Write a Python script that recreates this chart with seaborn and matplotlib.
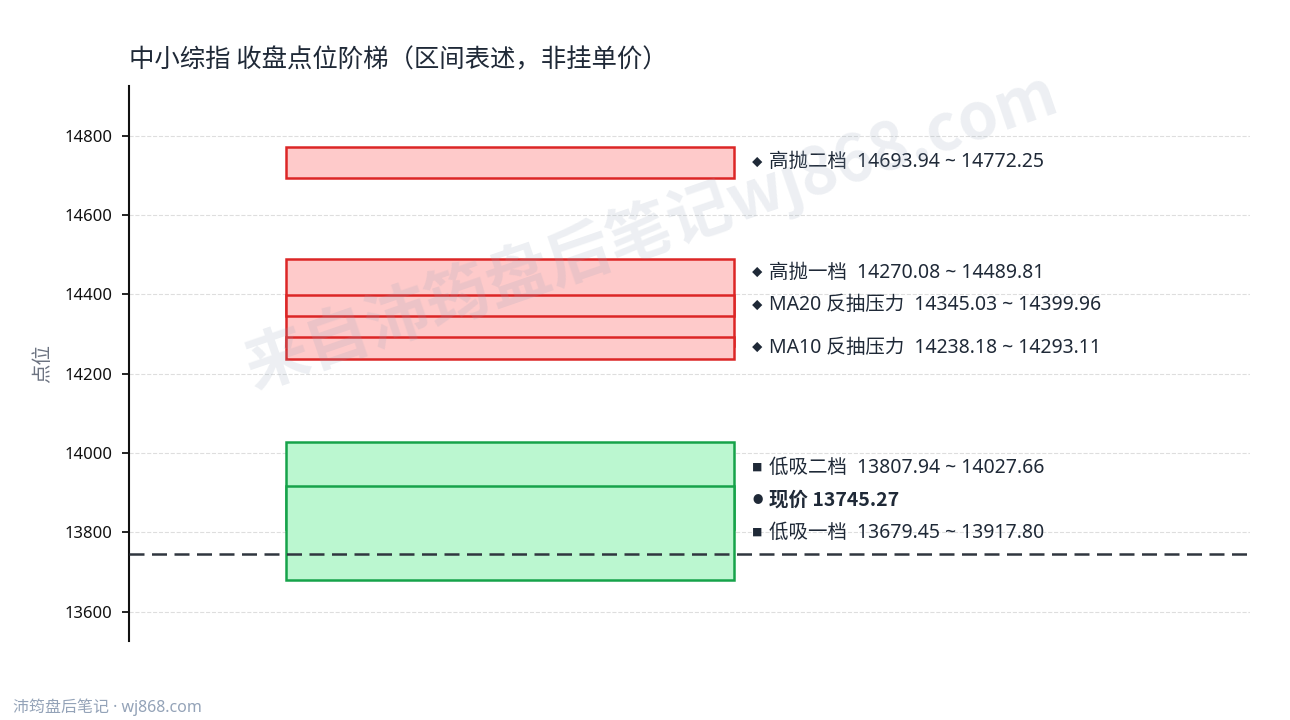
import matplotlib
matplotlib.use("Agg")
import matplotlib.pyplot as plt
import seaborn as sns

# price zones, listed top to bottom in drawing order
zone_names = ["高抛二档", "高抛一档", "MA20 反抽压力", "MA10 反抽压力", "低吸二档", "低吸一档"]
zone_low = [14693.94, 14270.08, 14345.03, 14238.18, 13807.94, 13679.45]
zone_high = [14772.25, 14489.81, 14399.96, 14293.11, 14027.66, 13917.80]
zone_kind = ["sell", "sell", "sell", "sell", "buy", "buy"]
current_price = 13745.27
y_ticks = [13600, 13800, 14000, 14200, 14400, 14600, 14800]

title = "中小综指 收盘点位阶梯（区间表述，非挂单价）"
watermark = "来自沛筠盘后笔记wj868.com"
footer = "沛筠盘后笔记 · wj868.com"

sns.set_theme(style="white")
plt.rcParams["font.family"] = ["Noto Sans", "Noto Sans CJK SC", "DejaVu Sans"]
plt.rcParams["axes.unicode_minus"] = False

styles = {
    "sell": {"fill": "#fecaca", "edge": "#dc2626", "mark": "◆"},
    "buy": {"fill": "#bbf7d0", "edge": "#16a34a", "mark": "■"},
}
text_color = "#1f2937"
cjk = ["Noto Sans CJK SC", "DejaVu Sans"]

fig = plt.figure(figsize=(12.9, 7.2), dpi=100)
ax = fig.add_axes([0.1, 0.1097, 0.869, 0.7715])

for name, lo, hi, kind in zip(zone_names, zone_low, zone_high, zone_kind):
    st = styles[kind]
    ax.bar(0.34, hi - lo, bottom=lo, width=0.40, color=st["fill"],
           edgecolor=st["edge"], linewidth=1.8, zorder=2)

ax.axhline(current_price, color="#30363f", linewidth=1.8,
           linestyle=(0, (6.0, 3.0)), zorder=3)

# labels: bottom-up with minimum spacing so they don't collide
labels = []
for name, lo, hi, kind in zip(zone_names, zone_low, zone_high, zone_kind):
    labels.append((f"{name}  {lo:.2f} ~ {hi:.2f}", (lo + hi) / 2, styles[kind]["mark"], "normal"))
labels.insert(5, (f"现价 {current_price:.2f}", current_price, "●", "bold"))

gap = 82
prev = None
for text, target, mark, weight in reversed(labels):
    y = target if prev is None else max(target, prev + gap)
    prev = y
    ax.text(0.5605, y, mark, fontsize=7.5, color=text_color, ha="center", va="center",
            family=cjk)
    fam = cjk if weight == "bold" else plt.rcParams["font.family"]
    ax.text(0.571, y, text, fontsize=14, color=text_color, ha="left", va="center",
            fontweight=weight, family=fam)

ax.set_xlim(0, 1)
ax.set_ylim(13526, 14927)
ax.set_xticks([])
ax.set_yticks(y_ticks)
ax.yaxis.grid(True, linestyle="--", color="#dedede", linewidth=0.8)
ax.set_axisbelow(True)
sns.despine(ax=ax, top=True, right=True, bottom=True)
ax.spines["left"].set_color("#111111")
ax.spines["left"].set_linewidth(1.5)
ax.tick_params(axis="y", left=True, length=5, width=1.3, color="#111111",
               labelsize=12, labelcolor="#111111", pad=7)

ax.set_ylabel("点位", fontsize=14, color="#6b7280", family=cjk)
ax.yaxis.set_label_coords(-0.068, 0.5)

fig.text(0.1, 0.916, title, fontsize=18.3, color=text_color, ha="left", va="center",
         family=cjk)
fig.text(0.505, 0.68, watermark, fontsize=46, fontweight="bold", color="#94a3b8",
         alpha=0.17, rotation=19, ha="center", va="center", zorder=10, family=cjk)
fig.text(0.01, 0.018, footer, fontsize=11.5, color="#94a3b8", ha="left", va="center")

fig.savefig("out.png", dpi=100)
